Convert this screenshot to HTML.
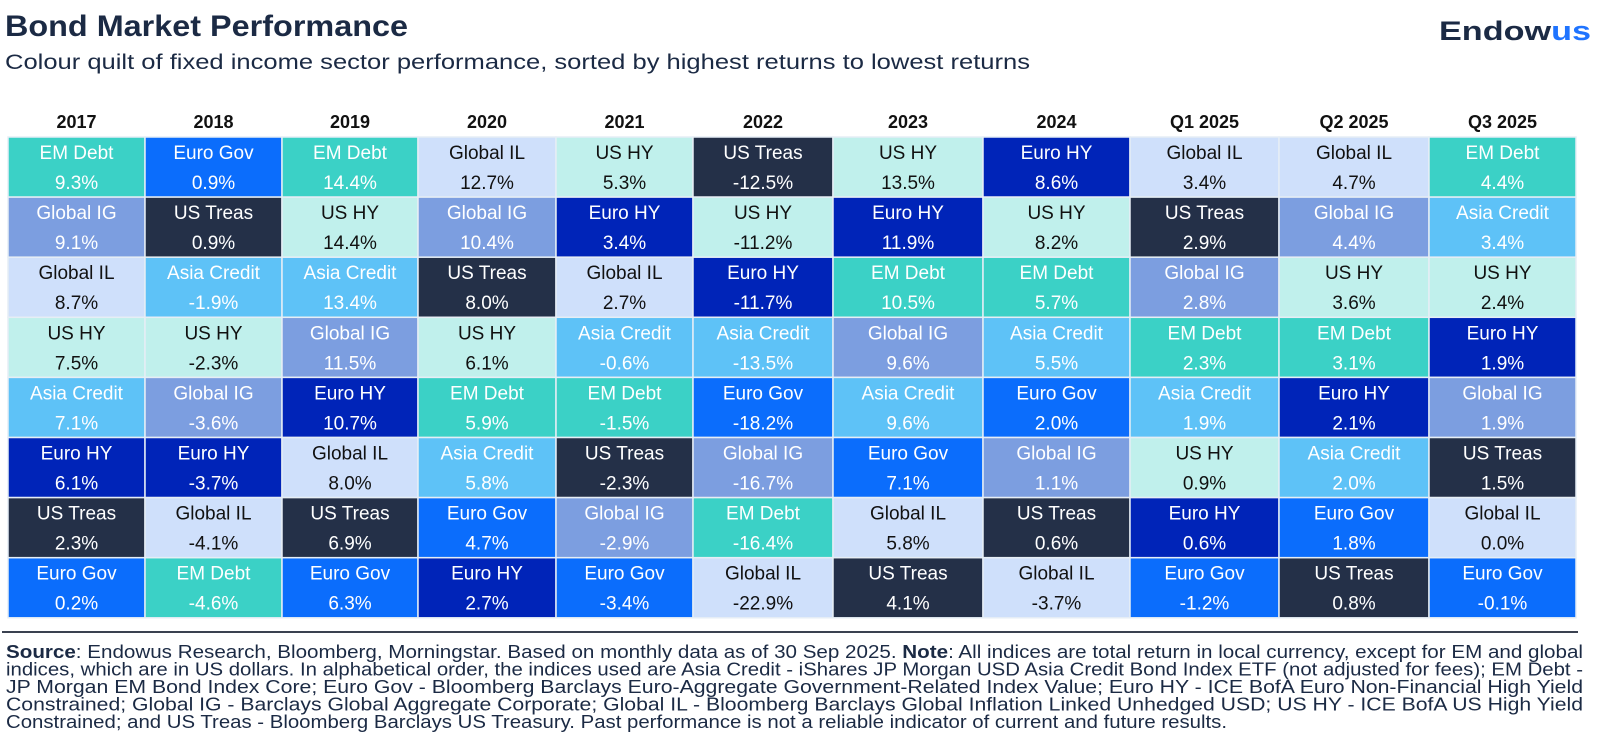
<!DOCTYPE html>
<html><head><meta charset="utf-8">
<style>
html,body{margin:0;padding:0;background:#fff;}
svg{display:block;font-family:"Liberation Sans",sans-serif;}
</style></head>
<body>
<svg id="chart" width="1600" height="739" viewBox="0 0 1600 739">
  <text x="5" y="36" font-size="30" font-weight="bold" fill="#1b2a44" textLength="403" lengthAdjust="spacingAndGlyphs">Bond Market Performance</text>
  <text x="5" y="69" font-size="21" fill="#1b2a44" textLength="1025" lengthAdjust="spacingAndGlyphs">Colour quilt of fixed income sector performance, sorted by highest returns to lowest returns</text>
  <text x="1439" y="40" font-size="27" font-weight="bold" fill="#1b2a44" textLength="152" lengthAdjust="spacingAndGlyphs">Endow<tspan fill="#1f74ff">us</tspan></text>
  <g id="grid"></g>
  <line x1="2" y1="632" x2="1578" y2="632" stroke="#3a4150" stroke-width="2"/>
  <g font-size="18.5" fill="#1b2a44">
    <text x="6" y="658" textLength="1577" lengthAdjust="spacingAndGlyphs"><tspan font-weight="bold">Source</tspan>: Endowus Research, Bloomberg, Morningstar. Based on monthly data as of 30 Sep 2025. <tspan font-weight="bold">Note</tspan>: All indices are total return in local currency, except for EM and global</text>
    <text x="6" y="675.5" textLength="1577" lengthAdjust="spacingAndGlyphs">indices, which are in US dollars. In alphabetical order, the indices used are Asia Credit - iShares JP Morgan USD Asia Credit Bond Index ETF (not adjusted for fees); EM Debt -</text>
    <text x="6" y="693" textLength="1577" lengthAdjust="spacingAndGlyphs">JP Morgan EM Bond Index Core; Euro Gov - Bloomberg Barclays Euro-Aggregate Government-Related Index Value; Euro HY - ICE BofA Euro Non-Financial High Yield</text>
    <text x="6" y="710.5" textLength="1577" lengthAdjust="spacingAndGlyphs">Constrained; Global IG - Barclays Global Aggregate Corporate; Global IL - Bloomberg Barclays Global Inflation Linked Unhedged USD; US HY - ICE BofA US High Yield</text>
    <text x="6" y="728" textLength="1221" lengthAdjust="spacingAndGlyphs">Constrained; and US Treas - Bloomberg Barclays US Treasury. Past performance is not a reliable indicator of current and future results.</text>
  </g>
</svg>
<script>
const periods = ["2017","2018","2019","2020","2021","2022","2023","2024","Q1 2025","Q2 2025","Q3 2025"];
const sectorsByPeriod = [
 ["EM Debt","Global IG","Global IL","US HY","Asia Credit","Euro HY","US Treas","Euro Gov"],
 ["Euro Gov","US Treas","Asia Credit","US HY","Global IG","Euro HY","Global IL","EM Debt"],
 ["EM Debt","US HY","Asia Credit","Global IG","Euro HY","Global IL","US Treas","Euro Gov"],
 ["Global IL","Global IG","US Treas","US HY","EM Debt","Asia Credit","Euro Gov","Euro HY"],
 ["US HY","Euro HY","Global IL","Asia Credit","EM Debt","US Treas","Global IG","Euro Gov"],
 ["US Treas","US HY","Euro HY","Asia Credit","Euro Gov","Global IG","EM Debt","Global IL"],
 ["US HY","Euro HY","EM Debt","Global IG","Asia Credit","Euro Gov","Global IL","US Treas"],
 ["Euro HY","US HY","EM Debt","Asia Credit","Euro Gov","Global IG","US Treas","Global IL"],
 ["Global IL","US Treas","Global IG","EM Debt","Asia Credit","US HY","Euro HY","Euro Gov"],
 ["Global IL","Global IG","US HY","EM Debt","Euro HY","Asia Credit","Euro Gov","US Treas"],
 ["EM Debt","Asia Credit","US HY","Euro HY","Global IG","US Treas","Global IL","Euro Gov"]
];
const returnsByPeriod = [
 [9.3,9.1,8.7,7.5,7.1,6.1,2.3,0.2],
 [0.9,0.9,-1.9,-2.3,-3.6,-3.7,-4.1,-4.6],
 [14.4,14.4,13.4,11.5,10.7,8.0,6.9,6.3],
 [12.7,10.4,8.0,6.1,5.9,5.8,4.7,2.7],
 [5.3,3.4,2.7,-0.6,-1.5,-2.3,-2.9,-3.4],
 [-12.5,-11.2,-11.7,-13.5,-18.2,-16.7,-16.4,-22.9],
 [13.5,11.9,10.5,9.6,9.6,7.1,5.8,4.1],
 [8.6,8.2,5.7,5.5,2.0,1.1,0.6,-3.7],
 [3.4,2.9,2.8,2.3,1.9,0.9,0.6,-1.2],
 [4.7,4.4,3.6,3.1,2.1,2.0,1.8,0.8],
 [4.4,3.4,2.4,1.9,1.9,1.5,0.0,-0.1]
];
const fills = {"EM Debt":"#3bd1c6","Euro Gov":"#0b6dfc","Global IG":"#7c9ee0","US Treas":"#243048","Global IL":"#cfe0fb","Asia Credit":"#5ec2f7","US HY":"#c0f0ec","Euro HY":"#0024b8"};
const darkText = {"Global IL":1,"US HY":1};
const colEdges = [8,145,282,418,556,693,833,983,1130,1279,1429,1576];
const top0 = 137, rowH = 60.1;
const ns = "http://www.w3.org/2000/svg";
const g = document.getElementById("grid");
function mk(tag, attrs){const e=document.createElementNS(ns,tag);for(const k in attrs)e.setAttribute(k,attrs[k]);return e;}
periods.forEach((p,c)=>{
  const x0=colEdges[c], w=colEdges[c+1]-colEdges[c], cx=x0+w/2;
  const h = mk("text",{x:cx,y:128,"text-anchor":"middle","font-size":18,"font-weight":"bold",fill:"#111"});
  h.textContent=p;
  
  
  g.appendChild(h);
  sectorsByPeriod[c].forEach((s,r)=>{
    const y0=top0+r*rowH;
    const grp = mk("g",{});
    
    
    grp.appendChild(mk("rect",{x:x0,y:y0,width:w,height:rowH,fill:fills[s],stroke:"#e6eef5","stroke-width":1.5}));
    const col = darkText[s]?"#111":"#fff";
    const t1 = mk("text",{x:cx,y:y0+22,"text-anchor":"middle","font-size":19,fill:col});
    t1.textContent=s;
    grp.appendChild(t1);
    const t2 = mk("text",{x:cx,y:y0+52,"text-anchor":"middle","font-size":19,fill:col});
    t2.textContent=returnsByPeriod[c][r].toFixed(1)+"%";
    grp.appendChild(t2);
    g.appendChild(grp);
  });
});
</script>
</body></html>
